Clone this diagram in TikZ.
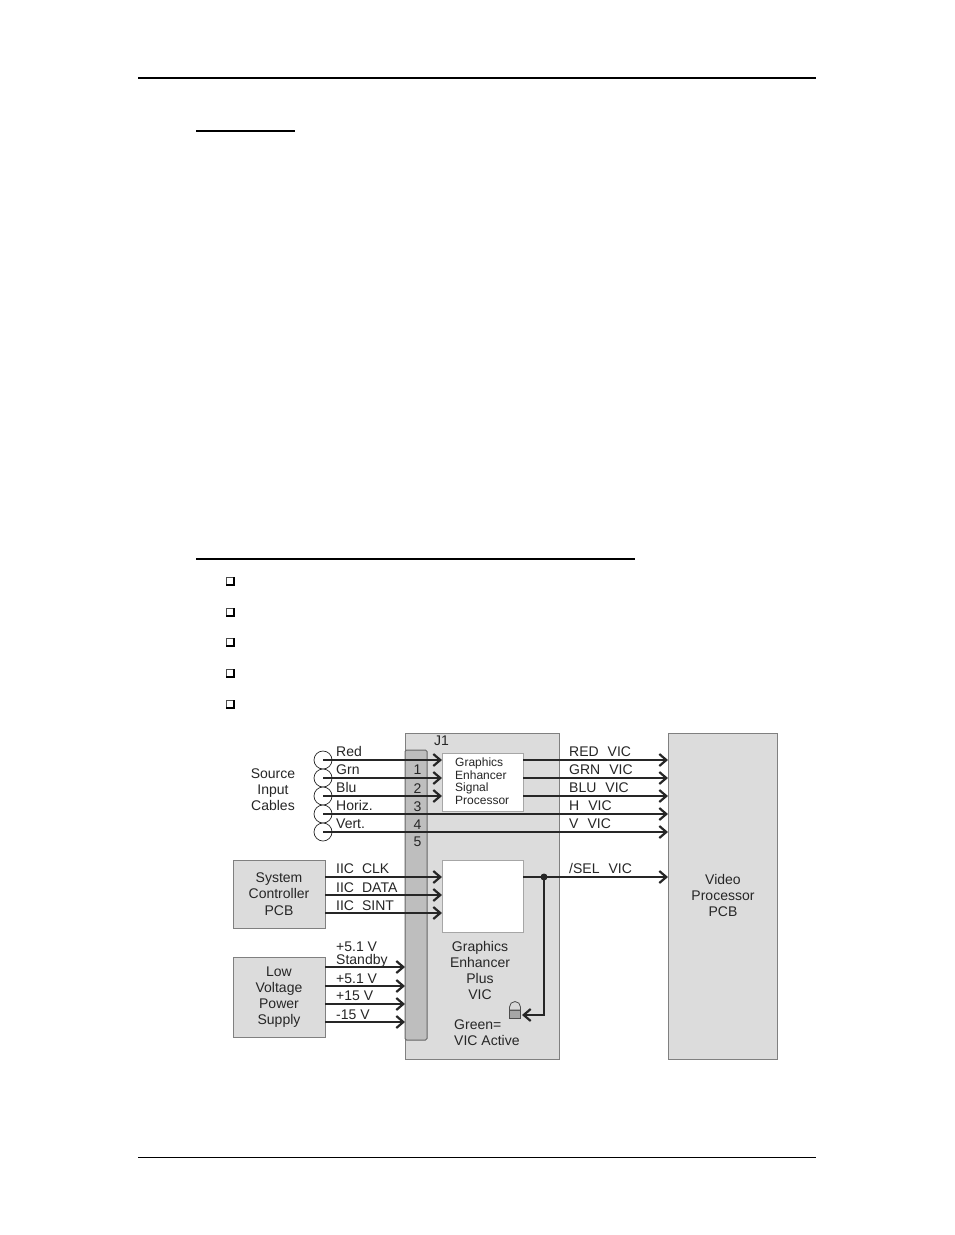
\documentclass[tikz,border=0pt]{standalone}
\usepackage{fontspec}
\setmainfont{Liberation Sans}
\usetikzlibrary{arrows.meta}
\definecolor{panel}{HTML}{DCDCDC}
\definecolor{strip}{HTML}{BEBEBE}
\definecolor{edge}{HTML}{808080}
\definecolor{ink}{HTML}{262626}
\tikzset{
  x=1pt,y=-1pt,
  panelbox/.style={draw=edge,line width=1pt,fill=panel,anchor=north west,inner sep=0pt,outer sep=0pt},
  whitebox/.style={draw=edge!70,line width=0.8pt,fill=white,anchor=north west,inner sep=0pt,outer sep=0pt},
  stripbox/.style={draw=edge!80!black,line width=1pt,fill=strip,rounded corners=1.5pt,anchor=north west,inner sep=0pt,outer sep=0pt},
  cable/.style={circle,draw=ink,line width=0.7pt,fill=white,minimum size=18pt,inner sep=0pt,outer sep=0pt},
  sig/.style={draw=ink,line width=2.6pt,-{Straight Barb[length=7pt,width=12pt,line width=2.2pt]},shorten >=0pt},
  lbl/.style={font=\fontsize{14}{16}\selectfont,text=ink,anchor=base west,inner sep=0pt},
  sgl/.style={lbl,yshift=1pt},
  tiny/.style={font=\fontsize{12}{12.6}\selectfont,text=ink,align=left,inner sep=0pt},
  mid/.style={font=\fontsize{14}{16}\selectfont,text=ink,align=center,inner sep=0pt},
  rule/.style={draw=black},
}
\begin{document}
\begin{tikzpicture}
\useasboundingbox (0,0) rectangle (954,1235);
\fill[white] (0,0) rectangle (954,1235);
% page rules
\coordinate (t1) at (138,78); \coordinate (t2) at (816,78);
\draw[rule,line width=2pt] (t1) -- (t2);
\coordinate (u1) at (196,131); \coordinate (u2) at (295,131);
\draw[rule,line width=1.5pt] (u1) -- (u2);
\coordinate (v1) at (196,559); \coordinate (v2) at (635,559);
\draw[rule,line width=1.7pt] (v1) -- (v2);
\coordinate (b1) at (138,1157); \coordinate (b2) at (816,1157);
\draw[rule,line width=0.7pt] (b1) -- (b2);
% checkboxes
\foreach \yy/\nn in {581/a,612/b,642/c,673/d,704/e}{
  \draw[black!70,line width=0.7pt,fill=white] (226,\yy-4) rectangle (233.5,\yy+3.5);
  \draw[black,line width=1.3pt] (226,\yy+4) -- (234,\yy+4) -- (234,\yy-4);
}
% main boxes
\node[panelbox,minimum width=154pt,minimum height=326pt] (ge) at (405,733) {};
\node[panelbox,minimum width=109pt,minimum height=326pt] (vid) at (668,733) {};
\node[stripbox,minimum width=22pt,minimum height=290pt] (j1) at (405,750) {};
\node[whitebox,minimum width=81pt,minimum height=58pt] (gesp) at (442,753) {};
\node[whitebox,minimum width=81pt,minimum height=72pt] (gep) at (442,860) {};
\node[panelbox,minimum width=92pt,minimum height=68pt] (sys) at (233,860) {};
\node[panelbox,minimum width=92pt,minimum height=80pt] (lv) at (233,957) {};
% cables
\node[cable] (c1) at (323,760) {};
\node[cable] (c2) at (323,778) {};
\node[cable] (c3) at (323,796) {};
\node[cable] (c4) at (323,814) {};
\node[cable] (c5) at (323,832) {};
% connectors
\foreach \n in {1,2,3}{
  \draw[sig] (c\n.center) -- (c\n.center -| gesp.west);
  \draw[sig] (c\n.center -| gesp.east) -- (c\n.center -| vid.west);
}
\foreach \n in {4,5}{
  \draw[sig] (c\n.center) -- (c\n.center -| vid.west);
}
\coordinate (i1) at (325,877); \coordinate (i2) at (325,895); \coordinate (i3) at (325,913);
\foreach \n in {1,2,3}{ \draw[sig] (i\n) -- (i\n -| gep.west); }
\coordinate (p1) at (325,967); \coordinate (p2) at (325,986); \coordinate (p3) at (325,1004); \coordinate (p4) at (325,1022);
\foreach \n in {1,2,3,4}{ \draw[sig] (p\n) -- (p\n -| ge.west); }
\coordinate (s0) at (523,877);
\draw[sig] (s0) -- (s0 -| vid.west);
\coordinate (jn) at (544,877);
\fill[ink] (jn) circle (3.5pt);
% LED
\coordinate (ledtip) at (522,1015);
\draw[edge!60!black,line width=0.8pt,fill=edge!70] (509.5,1010) rectangle (520.5,1018);
\draw[edge!60!black,line width=0.8pt,fill=strip!60!white] (509.5,1010) -- (509.5,1007) arc[start angle=180,end angle=0,radius=5.5pt] -- (520.5,1010) -- cycle;
\draw[sig] (jn) -- (jn |- ledtip) -- (ledtip);
% box texts
\node[mid] (tsys) at (279,894) {System\\[0.5pt]Controller\\[0.5pt]PCB};
\node[mid] (tlv) at (279,997) {Low\\Voltage\\Power\\Supply};
\node[mid] (tvid) at (723,895) {Video\\Processor\\PCB};
\node[mid] (tsrc) at (273,790) {Source\\Input\\Cables};
\node[mid] (tgep) at (480,970) {Graphics\\Enhancer\\Plus\\VIC};
\node[mid,align=left,anchor=north west] (tled) at (454,1020) {Green=\\VIC Active};
\node[tiny,anchor=north west] (tgesp) at (455,757.5) {Graphics\\Enhancer\\Signal\\Processor};
% labels
\node[lbl] (lj1) at (434,745) {J1};
\node[lbl] (n1) at (413.5,774) {1};
\node[lbl] (n2) at (413.5,793) {2};
\node[lbl] (n3) at (413.5,811) {3};
\node[lbl] (n4) at (413.5,829) {4};
\node[lbl] (n5) at (413.5,846) {5};
\node[sgl] (l1) at (336,757) {Red};
\node[sgl] (l2) at (336,775) {Grn};
\node[sgl] (l3) at (336,793) {Blu};
\node[sgl] (l4) at (336,811) {Horiz.};
\node[sgl] (l5) at (336,829) {Vert.};
\node[sgl] (li1) at (336,874) {IIC\hspace{8pt}CLK};
\node[sgl] (li2) at (336,893) {IIC\hspace{8pt}DATA};
\node[sgl] (li3) at (336,911) {IIC\hspace{8pt}SINT};
\node[sgl] (lp0) at (336,952) {+5.1 V};
\node[sgl] (lp0b) at (336,965) {Standby};
\node[sgl] (lp1) at (336,984) {+5.1 V};
\node[sgl] (lp2) at (336,1001) {+15 V};
\node[sgl] (lp3) at (336,1020) {-15 V};
\node[sgl] (o1) at (569,757) {RED\hspace{9pt}VIC};
\node[sgl] (o2) at (569,775) {GRN\hspace{9pt}VIC};
\node[sgl] (o3) at (569,793) {BLU\hspace{9pt}VIC};
\node[sgl] (o4) at (569,811) {H\hspace{9pt}VIC};
\node[sgl] (o5) at (569,829) {V\hspace{9pt}VIC};
\node[sgl] (o6) at (569,874) {/SEL\hspace{9pt}VIC};
\end{tikzpicture}
\end{document}
